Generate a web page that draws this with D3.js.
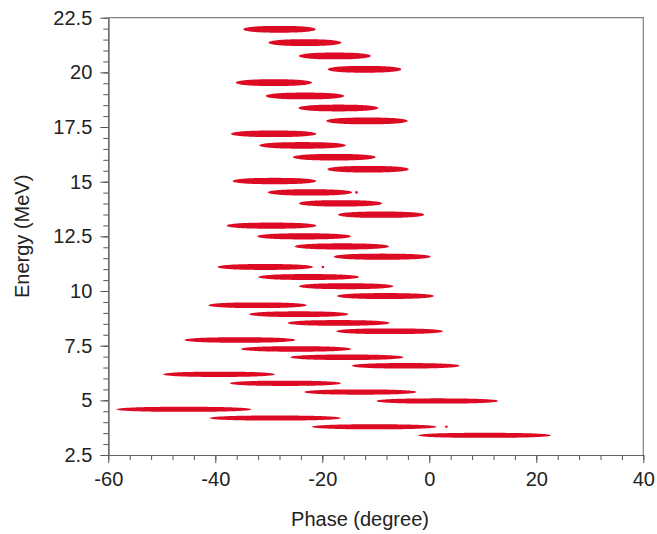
<!DOCTYPE html>
<html>
<head>
<meta charset="utf-8">
<script src="https://cdn.jsdelivr.net/npm/d3@7"></script>
<style>
  html, body { margin: 0; padding: 0; background: #fff; }
  svg { display: block; }
  text { font-family: "Liberation Sans", Arial, sans-serif; }
</style>
</head>
<body>
<svg id="chart" width="657" height="534"></svg>
<script>
// Bunch energy centres (MeV)
const energy = [
  21.97, 21.36, 20.75, 20.14,
  19.53, 18.92, 18.37, 17.78,
  17.19, 16.66, 16.12, 15.57,
  15.03, 14.51, 14.01, 13.49,
  12.99, 12.50, 12.04, 11.57,
  11.10, 10.64, 10.22, 9.77,
  9.35, 8.94, 8.54, 8.16,
  7.76, 7.35, 6.97, 6.58,
  6.19, 5.78, 5.38, 4.97,
  4.59, 4.19, 3.79, 3.40
];
// Phase extent of each bunch (degree)
const phaseMin = [
  -34.8, -30.1, -24.4, -19.0,
  -36.2, -30.6, -24.5, -19.3,
  -37.1, -31.8, -25.5, -19.1,
  -36.8, -30.2, -24.4, -17.1,
  -37.9, -32.2, -25.2, -17.9,
  -39.6, -32.0, -24.4, -17.3,
  -41.3, -33.7, -26.5, -17.4,
  -45.8, -35.2, -26.0, -14.5,
  -49.8, -37.3, -23.4, -9.9,
  -58.5, -41.1, -22.0, -2.1
];
const phaseMax = [
  -21.2, -16.4, -10.9, -5.2,
  -21.9, -15.9, -9.5, -4.0,
  -21.1, -15.6, -10.0, -3.8,
  -21.1, -14.4, -8.8, -0.9,
  -21.1, -14.6, -7.5, 0.3,
  -21.7, -13.1, -6.7, 0.9,
  -22.9, -15.1, -7.4, 2.6,
  -25.0, -14.6, -4.8, 5.7,
  -28.8, -16.5, -2.4, 12.9,
  -33.2, -16.5, 1.4, 22.8
];
// Full energy spread of each group of four bunches (MeV)
const energySpread = [0.31, 0.31, 0.30, 0.29, 0.28, 0.27, 0.26, 0.25, 0.24, 0.23];
// Isolated macro-particles
const strayPhase = [-19.9, 3.2, -13.6];
const strayEnergy = [11.10, 3.79, 14.51];

const xTicks = [-60, -40, -20, 0, 20, 40];
const yTicks = [2.5, 5, 7.5, 10, 12.5, 15, 17.5, 20, 22.5];
const xLabel = "Phase (degree)";
const yLabel = "Energy (MeV)";

const svg = d3.select("#chart");
const L = 108.3, R = 643.3, T = 17.7, B = 455;
const x = d3.scaleLinear().domain([-60, 40]).range([L, R]);
const y = d3.scaleLinear().domain([2.5, 22.5]).range([B, T]);
const red = "#dc0a23";

// bunches: cigar-shaped outlines (fuller than an ellipse)
const bunches = energy.map((e, i) => ({
  e, p0: phaseMin[i], p1: phaseMax[i], de: energySpread[Math.floor(i / 4)]
}));
const us = d3.range(-1, 1.0001, 0.025);
function cigar(d) {
  const cx = x((d.p0 + d.p1) / 2), rx = (x(d.p1) - x(d.p0)) / 2;
  const cy = y(d.e), ry = Math.abs(y(d.e + d.de / 2) - y(d.e));
  const h = u => ry * Math.pow(Math.max(0, 1 - Math.pow(Math.abs(u), 2.6)), 0.5);
  const top = us.map(u => [cx + u * rx, cy - h(u)]);
  const bot = us.slice().reverse().map(u => [cx + u * rx, cy + h(u)]);
  return d3.line()(top.concat(bot)) + "Z";
}
svg.append("g").selectAll("path").data(bunches).join("path")
  .attr("d", cigar)
  .attr("fill", red);

svg.append("g").selectAll("circle").data(strayPhase).join("circle")
  .attr("cx", d => x(d))
  .attr("cy", (d, i) => y(strayEnergy[i]))
  .attr("r", 1.3)
  .attr("fill", red);

// frame top/right
svg.append("path")
  .attr("d", `M${L},${T}H${R}V${B}`)
  .attr("fill", "none").attr("stroke", "#808080").attr("stroke-width", 1.2);

const fmtX = d => String(d);
const gx = svg.append("g").attr("transform", `translate(0,${B})`);
gx.call(d3.axisBottom(x).tickValues(d3.range(-60, 40.1, 4)).tickSize(5).tickSizeOuter(0).tickFormat(""));
gx.append("g").call(d3.axisBottom(x).tickValues(xTicks).tickSize(8).tickSizeOuter(0).tickPadding(9).tickFormat(fmtX));
const gy = svg.append("g").attr("transform", `translate(${L},0)`);
gy.call(d3.axisLeft(y).tickValues(d3.range(2.5, 22.51, 0.5)).tickSize(5).tickSizeOuter(0).tickFormat(""));
gy.append("g").call(d3.axisLeft(y).tickValues(yTicks).tickSize(8).tickSizeOuter(0).tickPadding(8).tickFormat(d => String(d)));

svg.selectAll(".domain").attr("stroke", "#666").attr("stroke-width", 1.2);
svg.selectAll(".tick line").attr("stroke", "#555");
svg.selectAll(".tick text").attr("font-size", 20).attr("fill", "#222")
  .style("font-family", '"Liberation Sans", Arial, sans-serif');

svg.append("text").attr("x", 360).attr("y", 526).attr("text-anchor", "middle")
  .attr("font-size", 20).attr("fill", "#222").text(xLabel);
svg.append("text").attr("transform", `translate(29,${(T + B) / 2}) rotate(-90)`)
  .attr("text-anchor", "middle").attr("font-size", 20).attr("fill", "#222").text(yLabel);
</script>
</body>
</html>
